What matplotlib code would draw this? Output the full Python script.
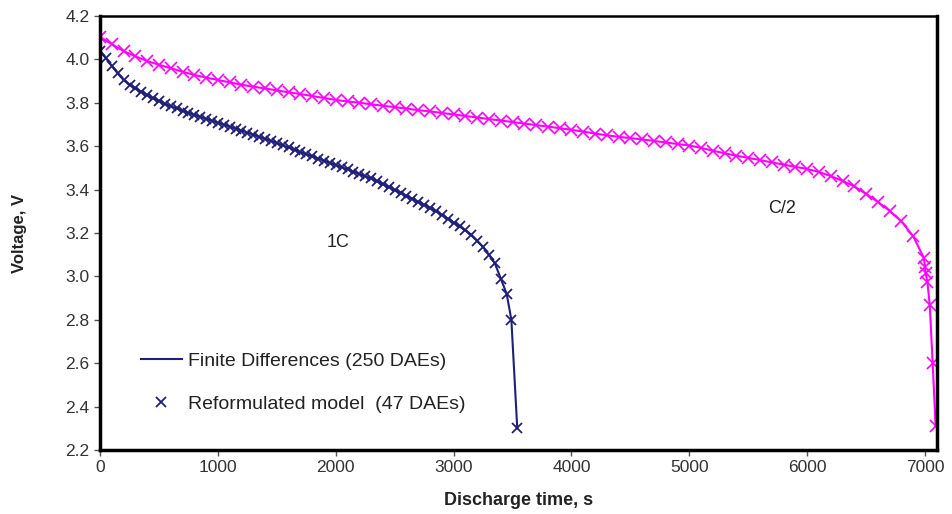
import numpy as np
import matplotlib.pyplot as plt

plt.rcParams['font.family'] = ['Liberation Sans', 'DejaVu Sans']

# 1C discharge (time in s, voltage in V)
t_1c = [0, 50, 100, 150, 200, 250, 300, 350, 400, 450, 500, 550, 600, 650, 700,
        750, 800, 850, 900, 950, 1000, 1050, 1100, 1150, 1200, 1250, 1300, 1350,
        1400, 1450, 1500, 1550, 1600, 1650, 1700, 1750, 1800, 1850, 1900, 1950,
        2000, 2050, 2100, 2150, 2200, 2250, 2300, 2350, 2400, 2450, 2500, 2550,
        2600, 2650, 2700, 2750, 2800, 2850, 2900, 2950, 3000, 3050, 3100, 3150,
        3200, 3250, 3300, 3350, 3400, 3450, 3490, 3540]
v_1c = [4.040, 4.005, 3.970, 3.935, 3.905, 3.883, 3.867, 3.851, 3.835, 3.821,
        3.808, 3.795, 3.784, 3.774, 3.764, 3.754, 3.744, 3.735, 3.726, 3.717,
        3.708, 3.699, 3.690, 3.681, 3.672, 3.662, 3.653, 3.643, 3.634, 3.624,
        3.614, 3.604, 3.594, 3.584, 3.573, 3.563, 3.553, 3.543, 3.533, 3.523,
        3.513, 3.503, 3.493, 3.482, 3.472, 3.461, 3.451, 3.438, 3.425, 3.412,
        3.398, 3.385, 3.371, 3.357, 3.343, 3.329, 3.315, 3.300, 3.283, 3.266,
        3.248, 3.230, 3.212, 3.192, 3.165, 3.135, 3.100, 3.060, 2.990, 2.920,
        2.800, 2.300]

# C/2 discharge
t_c2 = [0, 100, 200, 300, 400, 500, 600, 700, 800, 900, 1000, 1100, 1200, 1300,
        1400, 1500, 1600, 1700, 1800, 1900, 2000, 2100, 2200, 2300, 2400, 2500,
        2600, 2700, 2800, 2900, 3000, 3100, 3200, 3300, 3400, 3500, 3600, 3700,
        3800, 3900, 4000, 4100, 4200, 4300, 4400, 4500, 4600, 4700, 4800, 4900,
        5000, 5100, 5200, 5300, 5400, 5500, 5600, 5700, 5800, 5900, 6000, 6100,
        6200, 6300, 6400, 6500, 6600, 6700, 6800, 6900, 6990, 7000, 7005, 7020,
        7040, 7065, 7090]
v_c2 = [4.103, 4.070, 4.038, 4.014, 3.992, 3.975, 3.959, 3.943, 3.928, 3.916,
        3.905, 3.894, 3.883, 3.874, 3.866, 3.857, 3.848, 3.840, 3.831, 3.822,
        3.813, 3.806, 3.800, 3.793, 3.786, 3.780, 3.773, 3.766, 3.760, 3.753,
        3.746, 3.739, 3.732, 3.725, 3.718, 3.711, 3.704, 3.697, 3.690, 3.683,
        3.675, 3.667, 3.658, 3.650, 3.643, 3.637, 3.631, 3.624, 3.617, 3.610,
        3.603, 3.592, 3.579, 3.567, 3.556, 3.546, 3.536, 3.525, 3.515, 3.505,
        3.495, 3.481, 3.462, 3.440, 3.415, 3.380, 3.343, 3.302, 3.253, 3.185,
        3.085, 3.045, 3.015, 2.975, 2.870, 2.600, 2.310]

navy = '#1f1f7a'
magenta = '#ff00ff'

fig = plt.figure(figsize=(9.53, 5.14), dpi=100)
ax = fig.add_axes([0.105, 0.1245, 0.878, 0.8445])

# model lines
ax.plot(t_1c, v_1c, color=navy, lw=1.5, label='Finite Differences (250 DAEs)')
ax.plot(t_c2, v_c2, color=magenta, lw=1.5)
# reformulated model markers
ax.plot(t_1c, v_1c, 'x', color=navy, ms=7, mew=1.3, label='Reformulated model  (47 DAEs)')
ax.plot(t_c2, v_c2, 'x', color=magenta, ms=8, mew=1.2)

ax.set_xlim(0, 7100)
ax.set_ylim(2.2, 4.2)
ax.set_xticks(np.arange(0, 7001, 1000))
ax.set_yticks(np.arange(2.2, 4.21, 0.2))
ax.set_yticklabels(['%.1f' % y for y in np.arange(2.2, 4.21, 0.2)])
ax.tick_params(labelsize=12.5, labelcolor='#333333', color='#555555', length=4, width=1)

ax.set_xlabel('Discharge time, s', fontsize=13, fontweight='bold', color='#222222', labelpad=12)
ax.set_ylabel('Voltage, V', fontsize=12, fontweight='bold', color='#222222', labelpad=28)

for side in ['left', 'bottom', 'right']:
    ax.spines[side].set_linewidth(2.5)
ax.spines['top'].set_linewidth(1.8)

ax.text(2017, 3.154, '1C', fontsize=13, ha='center', va='center', color='#222222')
ax.text(5790, 3.315, 'C/2', fontsize=13, ha='center', va='center', color='#222222')

ax.legend(loc='lower left', bbox_to_anchor=(0.028, 0.045), frameon=False, fontsize=14,
          handlelength=2.1, labelspacing=1.3, handletextpad=0.3, labelcolor='#222222')

fig.savefig('out.png', dpi=100)
